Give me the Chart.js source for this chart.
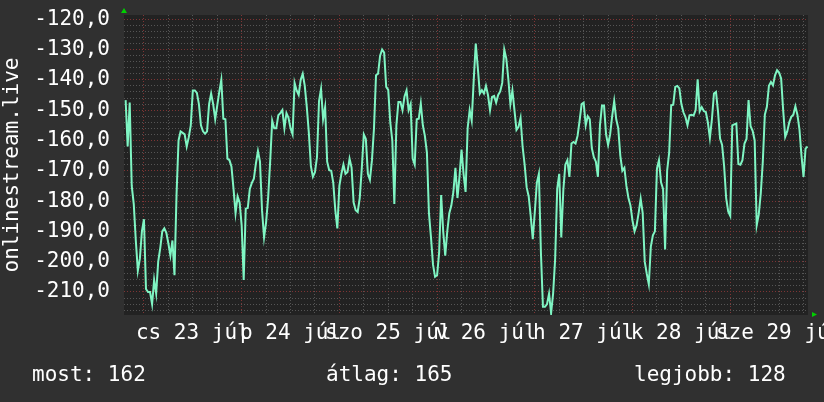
<!DOCTYPE html>
<html>
<head>
<meta charset="utf-8">
<script src="https://cdn.jsdelivr.net/npm/chart.js@4"></script>
<style>
  html, body { margin: 0; padding: 0; background: #303030; }
  #wrap { position: relative; width: 824px; height: 402px; }
  .stat { position: absolute; top: 362px; font: 21px "DejaVu Sans Mono", monospace; color: #ffffff; white-space: pre; }
</style>
</head>
<body>
<div id="wrap">
  <canvas id="rankChart" width="824" height="402"></canvas>
  <div class="stat" id="stat0" style="left:32px"></div>
  <div class="stat" id="stat1" style="left:326px"></div>
  <div class="stat" id="stat2" style="left:634px"></div>
</div>
<script>
// hours counted from 23 Jul 00:00, one sample every half hour
const startHour = -4.5;
const stepHours = 0.5;

const rankValues = [
  -146.7, -162, -147.5, -175, -181, -193, -203, -199, -190,
  -186, -209, -210, -210, -214, -206, -210.5, -200, -195.5, -190, -189, -190.5,
  -194, -198, -193, -204.5, -178, -160, -157, -157.5, -158, -162, -159, -155,
  -143.5, -143.5, -144.3, -148, -155, -157, -157.8, -157, -148, -144.5, -148, -153,
  -148.5, -144, -140, -152.8, -153, -166, -166.5, -168.7, -176, -184, -178.5, -180.5,
  -188, -206, -182.5, -182.3, -176, -174, -172.6, -167.6, -163.5, -167,
  -183, -192,
  -187, -179, -167, -153.5, -156, -156, -151.7, -151, -150, -156, -151, -152.5,
  -156, -158, -141, -143.5, -145, -140, -138, -142, -149, -157.5, -168.5, -172,
  -170.5, -165.5, -147, -143, -153, -149, -167, -169.8, -170, -174, -183, -189,
  -175, -171, -168, -171, -170.4, -166, -169, -180.5, -183, -183.6, -179, -169.3,
  -158, -159.5, -171, -173, -166.5, -156, -138.5, -138, -132, -130, -131, -142.3,
  -143.3, -154, -160,
  -181,
  -155, -147.3, -147.3, -150, -145.5, -143.5, -150, -148,
  -166, -168, -153, -152.8, -147.8, -155, -158.5, -164, -184, -192, -201, -205,
  -204.5, -197, -178, -190, -198, -190, -184, -181.5, -177, -169, -179, -172,
  -163, -171, -177, -156, -150, -153.5, -140, -128, -136, -144.5, -143.4, -144.5,
  -142, -145, -150, -145.6, -145.3, -147.5, -145, -143.8, -141, -130, -133, -139.8,
  -148, -143.5, -150, -156.5, -155.5, -152.6, -162, -168, -175.5, -178.5, -185, -192.6,
  -183.6, -174, -171, -197, -214.9, -214.9, -214, -210.5, -217, -210.5, -199, -176,
  -171, -192, -176.5, -168, -166.5, -172, -161, -160.5, -161, -158.5, -153.5, -148,
  -147.5, -155, -152, -153, -162.5, -165.5, -167, -172, -155, -148.5, -148.5, -158,
  -161.5, -158, -152, -147, -153, -156, -165, -170, -169, -175, -179, -181.5,
  -186.5, -190, -188, -184, -179.2, -184, -200, -204, -207.5, -195, -191.3, -190,
  -169.3, -166.5, -173.8, -176, -196,
  -170, -164, -148.4, -148.2, -142.3, -142, -142.8,
  -148, -150.7, -152.3, -155, -151.7, -151.5, -151.8, -150, -139.8, -150.4, -149, -150.3,
  -150.6, -154, -159.2, -153, -144.5, -144, -150.5, -159.4, -161.5, -168.5, -179, -183.4,
  -184.9, -155, -154.7, -154.4, -167.8, -168, -166.5, -161, -159.5, -146.7, -155.3, -156.8,
  -160, -188, -184.5, -177.5, -167, -151.5, -148.9, -142, -140.7, -141.8, -138.5, -136.8,
  -137.6, -139.5, -150, -158.8, -157, -154, -152.2, -151.5, -148.7, -151.5, -156.3, -165,
  -172, -162.7, -162
];

const dayLabels = ['cs 23 júl', 'p 24 júl', 'szo 25 júl', 'v 26 júl', 'h 27 júl', 'k 28 júl', 'sze 29 júl'];
const hourMarks = [0, 6, 12, 18];      // grid every 6 h, label at noon
const yMajorStep = 10;
const yMinorStep = 2;
const statLabels = ['most', 'átlag', 'legjobb'];
const statValues = [162, 165, 128];

const monoFont = 'DejaVu Sans Mono';

const points = rankValues.map((v, i) => ({ x: startHour + i * stepHours, y: v }));

const xTicks = [];
dayLabels.forEach((label, d) => {
  hourMarks.forEach((h) => xTicks.push({ value: d * 24 + h, label: h === 12 ? label : '' }));
});

statLabels.forEach((label, i) => {
  document.getElementById('stat' + i).textContent = label + ': ' + statValues[i];
});

const plotBackground = {
  id: 'plotBackground',
  beforeDraw(chart) {
    const { ctx, chartArea: a } = chart;
    ctx.save();
    ctx.fillStyle = '#222222';
    ctx.fillRect(a.left, a.top, a.right - a.left, a.bottom - a.top);
    ctx.restore();
  },
  afterDraw(chart) {
    // little green arrow heads at the axis ends
    const { ctx, chartArea: a } = chart;
    ctx.save();
    ctx.fillStyle = '#00d000';
    ctx.beginPath();
    ctx.moveTo(a.left - 3, a.top - 2);
    ctx.lineTo(a.left + 3, a.top - 2);
    ctx.lineTo(a.left, a.top - 7);
    ctx.fill();
    ctx.beginPath();
    ctx.moveTo(a.right + 4, a.bottom - 3);
    ctx.lineTo(a.right + 4, a.bottom + 2);
    ctx.lineTo(a.right + 9, a.bottom - 0.5);
    ctx.fill();
    ctx.restore();
  }
};

new Chart(document.getElementById('rankChart'), {
  type: 'line',
  data: {
    datasets: [{
      data: points,
      borderColor: '#7ff5c3',
      borderWidth: 2,
      pointRadius: 0,
      tension: 0,
      fill: false
    }]
  },
  options: {
    responsive: false,
    animation: false,
    devicePixelRatio: 1,
    layout: { padding: { left: 0, top: 15, right: 16, bottom: 0 } },
    plugins: {
      legend: { display: false },
      tooltip: { enabled: false }
    },
    scales: {
      x: {
        type: 'linear',
        min: -4.9,
        max: 163.1,
        afterBuildTicks(scale) {
          scale.ticks = xTicks.filter((t) => t.value >= scale.min && t.value <= scale.max)
            .map((t) => ({ value: t.value }));
        },
        afterFit(scale) {
          scale.height = 87;
          scale.paddingLeft = 0;
          scale.paddingRight = 0;
        },
        border: { display: false, dash: [1, 2] },
        grid: {
          drawTicks: false,
          lineWidth: 1,
          color: (c) => (c.tick && c.tick.value % 24 === 0) ? '#7e3434' : '#555555'
        },
        ticks: {
          autoSkip: false,
          maxRotation: 0,
          padding: 6,
          color: '#ffffff',
          font: { family: monoFont, size: 21 },
          callback: (v) => {
            const t = xTicks.find((k) => k.value === v);
            return t ? t.label : '';
          }
        }
      },
      y: {
        min: -217.6,
        max: -118.6,
        afterBuildTicks(scale) {
          const ticks = [];
          for (let v = Math.ceil(scale.min / yMinorStep) * yMinorStep; v <= scale.max; v += yMinorStep) {
            ticks.push({ value: v });
          }
          scale.ticks = ticks;
        },
        afterFit(scale) {
          scale.width = 124;
          scale.paddingTop = 0;
          scale.paddingBottom = 0;
        },
        border: { display: false, dash: [1, 2] },
        grid: {
          drawTicks: false,
          lineWidth: 1,
          color: (c) => (c.tick && c.tick.value % yMajorStep === 0) ? '#7e3434' : '#555555'
        },
        ticks: {
          autoSkip: false,
          padding: 14,
          color: '#ffffff',
          font: { family: monoFont, size: 21 },
          callback: (v) => (v % yMajorStep === 0) ? v.toFixed(1).replace('.', ',') : ''
        },
        title: {
          display: true,
          text: 'onlinestream.live',
          color: '#ffffff',
          font: { family: monoFont, size: 21 },
          padding: { top: 0, bottom: 0 }
        }
      }
    }
  },
  plugins: [plotBackground]
});
</script>
</body>
</html>
